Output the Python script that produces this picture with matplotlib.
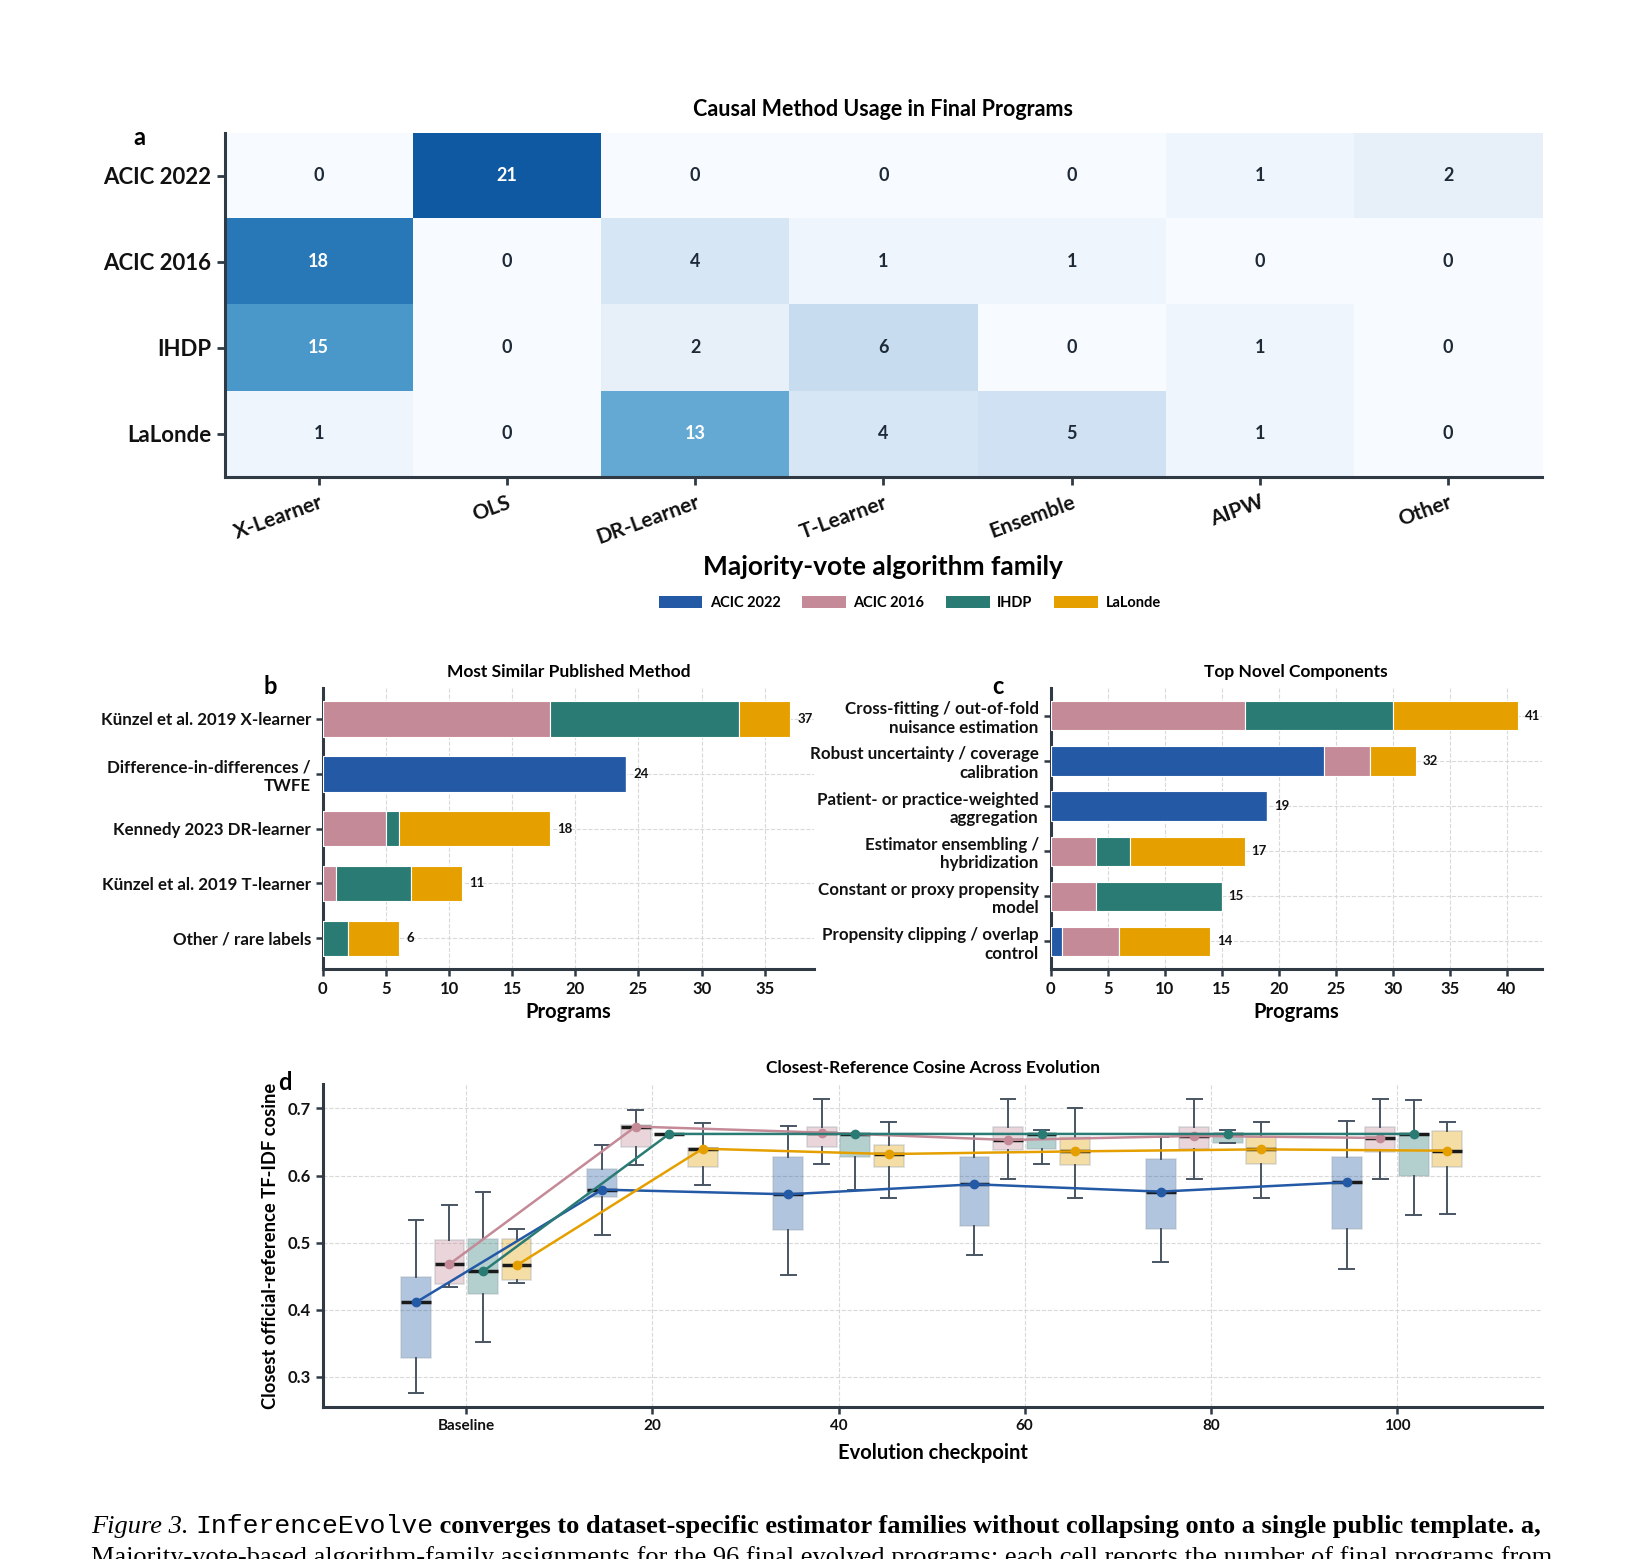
import matplotlib
matplotlib.use("Agg")
import matplotlib.pyplot as plt
import numpy as np
from matplotlib.patches import Patch

plt.rcParams["font.family"] = ["Lato", "DejaVu Sans"]
plt.rcParams["font.weight"] = "bold"
plt.rcParams["axes.labelweight"] = "bold"
plt.rcParams["axes.titleweight"] = "bold"

# ---- data ----
datasets = ["ACIC 2022", "ACIC 2016", "IHDP", "LaLonde"]
colors = ["#2359a5", "#c48a97", "#2a7b74", "#e5a000"]

families = ["X-Learner", "OLS", "DR-Learner", "T-Learner", "Ensemble", "AIPW", "Other"]
family_counts = np.array([
    [0, 21, 0, 0, 0, 1, 2],
    [18, 0, 4, 1, 1, 0, 0],
    [15, 0, 2, 6, 0, 1, 0],
    [1, 0, 13, 4, 5, 1, 0],
])

methods = [
    "Künzel et al. 2019 X-learner",
    "Difference-in-differences /\nTWFE",
    "Kennedy 2023 DR-learner",
    "Künzel et al. 2019 T-learner",
    "Other / rare labels",
]
# rows follow `datasets`
method_counts = np.array([
    [0, 24, 0, 0, 0],
    [18, 0, 5, 1, 0],
    [15, 0, 1, 6, 2],
    [4, 0, 12, 4, 4],
])

components = [
    "Cross-fitting / out-of-fold\nnuisance estimation",
    "Robust uncertainty / coverage\ncalibration",
    "Patient- or practice-weighted\naggregation",
    "Estimator ensembling /\nhybridization",
    "Constant or proxy propensity\nmodel",
    "Propensity clipping / overlap\ncontrol",
]
component_counts = np.array([
    [0, 24, 19, 0, 0, 1],
    [17, 4, 0, 4, 4, 5],
    [13, 0, 0, 3, 11, 0],
    [11, 4, 0, 10, 0, 8],
])

checkpoints = [0, 20, 40, 60, 80, 100]
checkpoint_labels = ["Baseline", "20", "40", "60", "80", "100"]

# box statistics per dataset, one value per checkpoint
whislo = {
    "ACIC 2022": [0.276, 0.511, 0.452, 0.482, 0.471, 0.461],
    "ACIC 2016": [0.434, 0.615, 0.617, 0.595, 0.595, 0.595],
    "IHDP": [0.352, 0.662, 0.579, 0.617, 0.648, 0.541],
    "LaLonde": [0.440, 0.586, 0.566, 0.566, 0.566, 0.542],
}
q1 = {
    "ACIC 2022": [0.328, 0.568, 0.519, 0.525, 0.520, 0.520],
    "ACIC 2016": [0.439, 0.642, 0.642, 0.638, 0.640, 0.635],
    "IHDP": [0.423, 0.662, 0.628, 0.639, 0.648, 0.600],
    "LaLonde": [0.445, 0.612, 0.612, 0.615, 0.617, 0.613],
}
med = {
    "ACIC 2022": [0.411, 0.579, 0.572, 0.587, 0.576, 0.590],
    "ACIC 2016": [0.468, 0.673, 0.664, 0.653, 0.659, 0.656],
    "IHDP": [0.457, 0.662, 0.662, 0.662, 0.662, 0.662],
    "LaLonde": [0.466, 0.640, 0.632, 0.636, 0.639, 0.637],
}
q3 = {
    "ACIC 2022": [0.449, 0.610, 0.627, 0.628, 0.625, 0.627],
    "ACIC 2016": [0.504, 0.675, 0.673, 0.673, 0.673, 0.673],
    "IHDP": [0.505, 0.662, 0.662, 0.662, 0.662, 0.662],
    "LaLonde": [0.506, 0.641, 0.646, 0.657, 0.657, 0.666],
}
whishi = {
    "ACIC 2022": [0.534, 0.646, 0.674, 0.662, 0.657, 0.681],
    "ACIC 2016": [0.556, 0.697, 0.714, 0.714, 0.714, 0.714],
    "IHDP": [0.576, 0.662, 0.662, 0.668, 0.668, 0.713],
    "LaLonde": [0.520, 0.678, 0.680, 0.700, 0.680, 0.680],
}

spine_col = "#2f3a45"
text_col = "#111111"


def style_axes(ax):
    for s in ("top", "right"):
        ax.spines[s].set_visible(False)
    for s in ("left", "bottom"):
        ax.spines[s].set_color(spine_col)
        ax.spines[s].set_linewidth(2.2)
    ax.tick_params(colors=spine_col, width=1.8, length=5, labelcolor=text_col)


fig = plt.figure(figsize=(16.39, 15.59), dpi=100)

# ---- a: heatmap ----
ax_a = fig.add_axes([0.137, 0.694, 0.804, 0.221])
ax_a.imshow(family_counts, cmap="Blues", vmin=0, vmax=25, aspect="auto")
for i in range(family_counts.shape[0]):
    for j in range(family_counts.shape[1]):
        v = family_counts[i, j]
        ax_a.text(j, i, str(v), ha="center", va="center", fontsize=13,
                  color="white" if v >= 10 else "#1f2a38")
ax_a.set_xticks(range(len(families)))
ax_a.set_xticklabels(families, rotation=20, ha="right", rotation_mode="anchor", fontsize=15)
ax_a.set_yticks(range(len(datasets)))
ax_a.set_yticklabels(datasets, fontsize=16)
style_axes(ax_a)
ax_a.tick_params(length=6, width=2)
ax_a.tick_params(axis="x", pad=5)
ax_a.set_xlabel("Majority-vote algorithm family", fontsize=19, labelpad=5)
ax_a.set_title("Causal Method Usage in Final Programs", fontsize=15.5, pad=12)
fig.text(0.085, 0.912, "a", fontsize=17, ha="center", va="center")

# legend
handles = [Patch(facecolor=c, label=d) for c, d in zip(colors, datasets)]
fig.legend(handles=handles, loc="center", bbox_to_anchor=(0.555, 0.613), ncol=4,
           frameon=False, fontsize=10.5, handlelength=3.0, handleheight=0.9,
           columnspacing=1.5, handletextpad=0.5)


def stacked(ax, labels, counts, title, xmax):
    y = np.arange(len(labels))
    left = np.zeros(len(labels))
    for k in range(len(datasets)):
        ax.barh(y, counts[k], left=left, height=0.65, color=colors[k],
                edgecolor="white", linewidth=0.8, zorder=3)
        left = left + counts[k]
    for yi, tot in zip(y, left):
        ax.text(tot + 0.6, yi, str(int(tot)), va="center", ha="left", fontsize=9.5,
                color=text_col, zorder=4)
    ax.set_yticks(y)
    ax.set_yticklabels(labels, fontsize=12.2)
    ax.invert_yaxis()
    ax.set_xlim(0, xmax)
    ax.set_xticks(np.arange(0, xmax, 5))
    ax.tick_params(axis="x", labelsize=12)
    ax.grid(True, linestyle="--", color="#d9d9d9", linewidth=0.8, zorder=0)
    ax.set_axisbelow(True)
    style_axes(ax)
    ax.set_xlabel("Programs", fontsize=14.5, labelpad=4)
    ax.set_title(title, fontsize=12.5, pad=8)


ax_b = fig.add_axes([0.197, 0.3785, 0.2996, 0.180])
stacked(ax_b, methods, method_counts, "Most Similar Published Method", 38.9)
fig.text(0.165, 0.5595, "b", fontsize=17, ha="center", va="center")

ax_c = fig.add_axes([0.641, 0.3785, 0.2996, 0.180])
stacked(ax_c, components, component_counts, "Top Novel Components", 43.05)
fig.text(0.609, 0.5595, "c", fontsize=17, ha="center", va="center")

# ---- d: box plots over evolution ----
ax_d = fig.add_axes([0.197, 0.0975, 0.744, 0.207])
offsets = [-5.4, -1.8, 1.8, 5.4]
for k, d in enumerate(datasets):
    stats = []
    for n in range(len(checkpoints)):
        stats.append(dict(whislo=whislo[d][n], q1=q1[d][n], med=med[d][n],
                          q3=q3[d][n], whishi=whishi[d][n]))
    pos = [c + offsets[k] for c in checkpoints]
    ax_d.bxp(stats, positions=pos, widths=3.2, patch_artist=True, showfliers=False,
             manage_ticks=False,
             boxprops=dict(facecolor=colors[k], alpha=0.35, edgecolor="#9aa3ad", linewidth=1.2),
             medianprops=dict(color="#1a1a1a", linewidth=2.5),
             whiskerprops=dict(color="#4a5563", linewidth=1.4),
             capprops=dict(color="#4a5563", linewidth=1.4))
    ax_d.plot(pos, med[d], color=colors[k], marker="o", markersize=6, linewidth=1.8, zorder=5)

ax_d.set_xlim(-15.4, 115.6)
ax_d.set_ylim(0.255, 0.736)
ax_d.set_xticks(checkpoints)
ax_d.set_xticklabels(checkpoint_labels, fontsize=11)
ax_d.set_yticks([0.3, 0.4, 0.5, 0.6, 0.7])
ax_d.tick_params(axis="y", labelsize=12)
ax_d.tick_params(axis="x", pad=4)
ax_d.grid(True, linestyle="--", color="#d9d9d9", linewidth=0.8)
ax_d.set_axisbelow(True)
style_axes(ax_d)
ax_d.set_xlabel("Evolution checkpoint", fontsize=14.5, labelpad=7)
ax_d.set_ylabel("Closest official-reference TF-IDF cosine", fontsize=13.2, labelpad=6)
ax_d.set_title("Closest-Reference Cosine Across Evolution", fontsize=12.5, pad=8)
fig.text(0.174, 0.3055, "d", fontsize=17, ha="center", va="center")

# ---- caption ----
fig.canvas.draw()
renderer = fig.canvas.get_renderer()
parts = [
    ("Figure 3. ", dict(family="Liberation Serif", style="italic", weight="normal")),
    ("InferenceEvolve", dict(family="Liberation Mono", weight="normal")),
    (" converges to dataset-specific estimator families without collapsing onto a single public template. a,",
     dict(family="Liberation Serif", weight="bold")),
]
x = 0.0555
for s, kw in parts:
    t = fig.text(x, 0.0167, s, fontsize=19, va="baseline", ha="left", color="black", **kw)
    bb = t.get_window_extent(renderer)
    x = bb.x1 / fig.bbox.width
fig.text(0.0555, -0.003, "Majority-vote-based algorithm-family assignments for the 96 final evolved programs; "
         "each cell reports the number of final programs from",
         fontsize=19, family="Liberation Serif", weight="normal", va="baseline", ha="left")

fig.savefig("out.png", dpi=100)
